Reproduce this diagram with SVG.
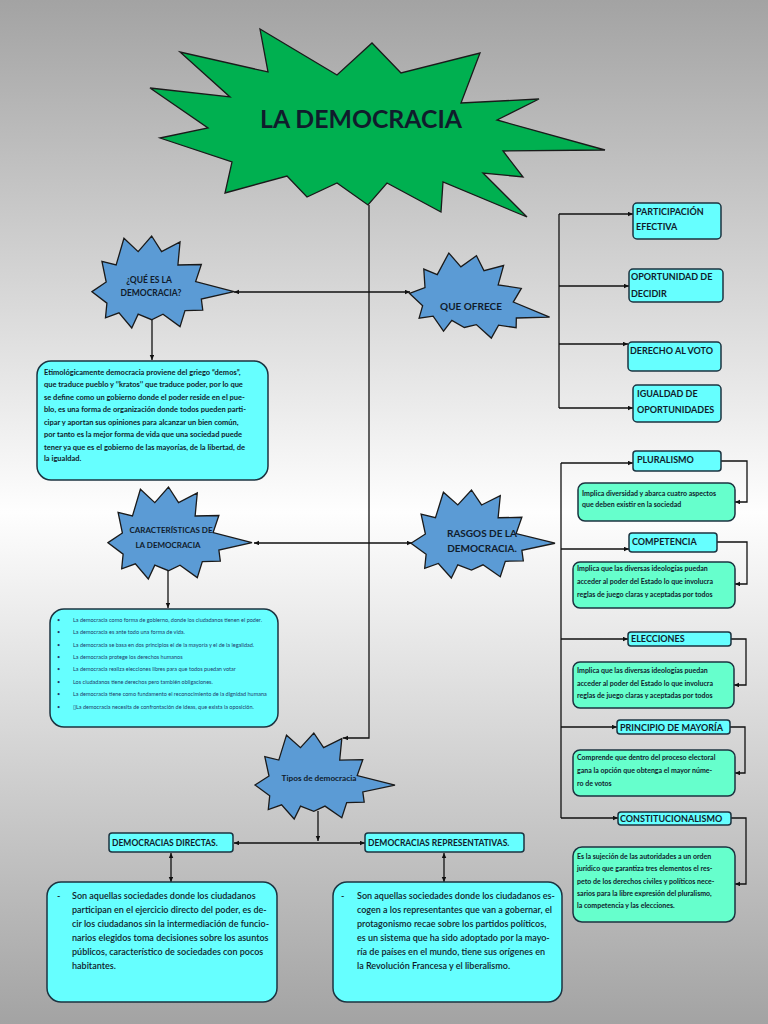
<svg xmlns="http://www.w3.org/2000/svg" xmlns:xlink="http://www.w3.org/1999/xlink" width="768" height="1024" viewBox="0 0 768 1024">
<defs>
<linearGradient id="bg" x1="0" y1="0" x2="0" y2="1">
<stop offset="0" stop-color="#a3a3a3"/>
<stop offset="0.5" stop-color="#fefefe"/>
<stop offset="1" stop-color="#a3a3a3"/>
</linearGradient>
<marker id="arr" markerUnits="userSpaceOnUse" markerWidth="6" markerHeight="5" refX="5" refY="2.25" orient="auto-start-reverse">
<path d="M0,0 L5,2.25 L0,4.5 z" fill="#111"/>
</marker>
<polygon id="bstar" points="-1,0.21 -0.8,0 -0.86,-0.45 -0.66,-0.37 -0.55,-0.95 -0.35,-0.66 -0.16,-1 -0.02,-0.66 0.24,-0.87 0.21,-0.37 0.54,-0.38 0.46,-0.01 1,0.21 0.54,0.37 0.56,0.61 0.31,0.62 0.24,0.97 0,0.7 -0.16,0.82 -0.35,0.7 -0.44,1 -0.62,0.67 -0.81,0.78 -0.79,0.46" fill="#5b9bd5" stroke="#1a1a1a" stroke-width="1.3" vector-effect="non-scaling-stroke"/>
</defs>
<style>
.t{font-family:Lato,"Liberation Sans",sans-serif;font-weight:bold;fill:#101c2c}
.c{text-anchor:middle}
.lbl{font-size:9px}
.desc{font-size:7px}
.par{font-size:7.5px}
.big{font-size:9px;font-weight:600}
.lst{font-family:Lato,"Liberation Sans",sans-serif;font-size:5.5px;fill:#1f3a6a}
.cy{fill:#66ffff;stroke:#1c3340;stroke-width:1.5}
.mn{fill:#66ffcc;stroke:#1c3340;stroke-width:1.5}
.ln{fill:none;stroke:#111;stroke-width:1.3}
.a2{marker-start:url(#arr);marker-end:url(#arr)}
.a1{marker-end:url(#arr)}
</style>
<rect x="0" y="0" width="768" height="1024" fill="url(#bg)"/>

<g id="connectors">
<path class="ln a1" d="M369,205 V738 H343"/>
<path class="ln a2" d="M234,292 H410"/>
<path class="ln a2" d="M254,543 H412"/>
<path class="ln a1" d="M152,320 V360"/>
<path class="ln a1" d="M168,571 V608"/>
<path class="ln a1" d="M318,811 V841"/>
<path class="ln a2" d="M234,843 H365"/>
<path class="ln a2" d="M171,853 V882"/>
<path class="ln a2" d="M444,853 V882"/>
<path class="ln" d="M559,214 V408"/>
<path class="ln a1" d="M559,214 H633"/>
<path class="ln a1" d="M559,286 H629"/>
<path class="ln a1" d="M559,344 H628"/>
<path class="ln a1" d="M559,408 H633"/>
<path class="ln" d="M561,463 V818"/>
<path class="ln a1" d="M561,463 H633"/>
<path class="ln a1" d="M561,549 H629"/>
<path class="ln a1" d="M561,639 H628"/>
<path class="ln a1" d="M561,727 H617"/>
<path class="ln a1" d="M561,818 H618"/>
<path class="ln a1" d="M721,461 H747 V502 H735"/>
<path class="ln a1" d="M717,542 H747 V584 H735"/>
<path class="ln a1" d="M731,639 H746 V685 H734"/>
<path class="ln a1" d="M730,727 H745 V773 H735"/>
<path class="ln a1" d="M731,818 H746 V884 H735"/>
</g>

<g id="la-democracia">
<polygon points="150,88 230,97 180,52 268,72 260,29 337,75 372,43 401,73 480,53 461,103 539,99 497,120 605,150 503,151 523,177 483,173 527,217 443,182 441,212 387,183 368,205 337,183 307,197 287,176 225,193 232,162 160,138 208,128" fill="#00b050" stroke="#1a1a1a" stroke-width="1.3"/>
<text class="t c" x="361" y="128" font-size="24" textLength="202" lengthAdjust="spacingAndGlyphs" fill="#000">LA DEMOCRACIA</text>
</g>

<g id="que-es">
<use xlink:href="#bstar" transform="translate(163,282) scale(71,46)"/>
<text class="t c" x="149" y="283" font-size="8.5">¿QUÉ ES LA</text>
<text class="t c" x="151" y="296" font-size="8.5">DEMOCRACIA?</text>
</g>

<g id="definicion">
<rect x="37" y="361" width="231" height="119" rx="14" class="cy"/>
<text class="t par" x="44" y="374.5">Etimológicamente democracia proviene del griego “demos”,</text>
<text class="t par" x="44" y="387">que traduce pueblo y ‘’kratos’’ que traduce poder, por lo que</text>
<text class="t par" x="44" y="399.5">se define como un gobierno donde el poder reside en el pue-</text>
<text class="t par" x="44" y="412">blo, es una forma de organización donde todos pueden parti-</text>
<text class="t par" x="44" y="424.5">cipar y aportan sus opiniones para alcanzar un bien común,</text>
<text class="t par" x="44" y="437">por tanto es la mejor forma de vida que una sociedad puede</text>
<text class="t par" x="44" y="449.5">tener ya que es el gobierno de las mayorías, de la libertad, de</text>
<text class="t par" x="44" y="461">la igualdad.</text>
</g>

<g id="que-ofrece">
<use xlink:href="#bstar" transform="translate(481,297) rotate(9.6) scale(71,40)"/>
<text class="t c" x="471" y="310" font-size="10">QUE OFRECE</text>
</g>

<g id="participacion">
<rect x="633" y="203" width="88" height="36" rx="4" class="cy"/>
<text class="t lbl" x="636" y="215">PARTICIPACIÓN</text>
<text class="t lbl" x="636" y="230">EFECTIVA</text>
</g>
<g id="oportunidad">
<rect x="629" y="269" width="94" height="33" rx="4" class="cy"/>
<text class="t lbl" x="631" y="280">OPORTUNIDAD DE</text>
<text class="t lbl" x="631" y="297">DECIDIR</text>
</g>
<g id="derecho-voto">
<rect x="628" y="342" width="93" height="29" rx="4" class="cy"/>
<text class="t lbl" x="630" y="354">DERECHO AL VOTO</text>
</g>
<g id="igualdad">
<rect x="633" y="385" width="88" height="37" rx="4" class="cy"/>
<text class="t lbl" x="637" y="397">IGUALDAD DE</text>
<text class="t lbl" x="637" y="413">OPORTUNIDADES</text>
</g>

<g id="caracteristicas">
<use xlink:href="#bstar" transform="translate(180,533) scale(72,46)"/>
<text class="t c" x="171" y="532.5" font-size="8">CARACTERÍSTICAS DE</text>
<text class="t c" x="168" y="547.5" font-size="8">LA DEMOCRACIA</text>
</g>

<g id="lista">
<rect x="50" y="609" width="228" height="118" rx="14" class="cy"/>
<g class="lst">
<text x="57" y="622">•</text><text x="73" y="622">La democracia como forma de gobierno, donde los ciudadanos tienen el poder.</text>
<text x="57" y="634">•</text><text x="73" y="634">La democracia es ante todo una forma de vida.</text>
<text x="57" y="647">•</text><text x="73" y="647">La democracia se basa en dos principios el de la mayoría y el de la legalidad.</text>
<text x="57" y="659">•</text><text x="73" y="659">La democracia protege los derechos humanos</text>
<text x="57" y="671">•</text><text x="73" y="671">La democracia realiza elecciones libres para que todos puedan votar</text>
<text x="57" y="684">•</text><text x="73" y="684">Los ciudadanos tiene derechos pero también obligaciones.</text>
<text x="57" y="696">•</text><text x="73" y="696">La democracia tiene como fundamento el reconocimiento de la dignidad humana</text>
<text x="57" y="709">•</text><text x="73" y="709">▯La democracia necesita de confrontación de ideas, que exista la oposición.</text>
</g>
</g>

<g id="rasgos">
<use xlink:href="#bstar" transform="translate(483,534) scale(72,44)"/>
<text class="t c" x="482" y="536.5" font-size="10">RASGOS DE LA</text>
<text class="t c" x="482" y="552" font-size="10">DEMOCRACIA.</text>
</g>

<g id="pluralismo">
<rect x="633" y="451" width="88" height="20" rx="3" class="cy"/>
<text class="t lbl" x="637" y="462.5">PLURALISMO</text>
</g>
<g id="pluralismo-desc">
<rect x="578" y="483" width="157" height="38" rx="7" class="mn"/>
<text class="t desc" x="582" y="495.5">Implica diversidad y abarca cuatro aspectos</text>
<text class="t desc" x="582" y="507">que deben existir en la sociedad</text>
</g>
<g id="competencia">
<rect x="629" y="533" width="88" height="19" rx="3" class="cy"/>
<text class="t lbl" x="632" y="544.5">COMPETENCIA</text>
</g>
<g id="competencia-desc">
<rect x="573" y="562" width="162" height="46" rx="7" class="mn"/>
<text class="t desc" x="577" y="571">Implica que las diversas ideologías puedan</text>
<text class="t desc" x="577" y="584">acceder al poder del Estado lo que involucra</text>
<text class="t desc" x="577" y="596.5">reglas de juego claras y aceptadas por todos</text>
</g>
<g id="elecciones">
<rect x="628" y="632" width="103" height="14" rx="3" class="cy"/>
<text class="t lbl" x="631" y="642">ELECCIONES</text>
</g>
<g id="elecciones-desc">
<rect x="573" y="662" width="161" height="46" rx="7" class="mn"/>
<text class="t desc" x="577" y="672.5">Implica que las diversas ideologías puedan</text>
<text class="t desc" x="577" y="685.5">acceder al poder del Estado lo que involucra</text>
<text class="t desc" x="577" y="697.5">reglas de juego claras y aceptadas por todos</text>
</g>
<g id="mayoria">
<rect x="617" y="720" width="113" height="14" rx="3" class="cy"/>
<text class="t lbl" x="620" y="730.5">PRINCIPIO DE MAYORÍA</text>
</g>
<g id="mayoria-desc">
<rect x="573" y="750" width="162" height="46" rx="7" class="mn"/>
<text class="t desc" x="577" y="759.5">Comprende que dentro del proceso electoral</text>
<text class="t desc" x="577" y="772.5">gana la opción que obtenga el mayor núme-</text>
<text class="t desc" x="577" y="785.5">ro de votos</text>
</g>
<g id="constitucionalismo">
<rect x="618" y="812" width="113" height="13" rx="3" class="cy"/>
<text class="t lbl" x="620" y="821.5">CONSTITUCIONALISMO</text>
</g>
<g id="constitucionalismo-desc">
<rect x="573" y="847" width="162" height="75" rx="9" class="mn"/>
<text class="t desc" x="577" y="858.5">Es la sujeción de las autoridades a un orden</text>
<text class="t desc" x="577" y="871">jurídico que garantiza tres elementos el res-</text>
<text class="t desc" x="577" y="883.5">peto de los derechos civiles y políticos nece-</text>
<text class="t desc" x="577" y="895.5">sarios para la libre expresión del pluralismo,</text>
<text class="t desc" x="577" y="907.5">la competencia y las elecciones.</text>
</g>

<g id="tipos">
<use xlink:href="#bstar" transform="translate(325,776) scale(70,43)"/>
<text class="t c" x="319" y="781" font-size="8.2">Tipos de democracia</text>
</g>

<g id="directas">
<rect x="109" y="833" width="124" height="19" rx="3" class="cy"/>
<text class="t" x="112" y="846" font-size="8.5">DEMOCRACIAS DIRECTAS.</text>
</g>
<g id="representativas">
<rect x="365" y="833" width="159" height="19" rx="3" class="cy"/>
<text class="t" x="368" y="846" font-size="8.5">DEMOCRACIAS REPRESENTATIVAS.</text>
</g>

<g id="directas-desc">
<rect x="47" y="882" width="230" height="120" rx="14" class="cy"/>
<text class="t big" x="57" y="899">-</text>
<text class="t big" x="72" y="899">Son aquellas sociedades donde los ciudadanos</text>
<text class="t big" x="72" y="913">participan en el ejercicio directo del poder, es de-</text>
<text class="t big" x="72" y="927">cir los ciudadanos sin la intermediación de funcio-</text>
<text class="t big" x="72" y="941">narios elegidos toma decisiones sobre los asuntos</text>
<text class="t big" x="72" y="955">públicos, característico de sociedades con pocos</text>
<text class="t big" x="72" y="969">habitantes.</text>
</g>
<g id="representativas-desc">
<rect x="333" y="882" width="229" height="120" rx="14" class="cy"/>
<text class="t big" x="341" y="899">-</text>
<text class="t big" x="357" y="899">Son aquellas sociedades donde los ciudadanos es-</text>
<text class="t big" x="357" y="913">cogen a los representantes que van a gobernar, el</text>
<text class="t big" x="357" y="927">protagonismo recae sobre los partidos políticos,</text>
<text class="t big" x="357" y="941">es un sistema que ha sido adoptado por la mayo-</text>
<text class="t big" x="357" y="955">ría de países en el mundo, tiene sus orígenes en</text>
<text class="t big" x="357" y="969">la Revolución Francesa y el liberalismo.</text>
</g>
</svg>
